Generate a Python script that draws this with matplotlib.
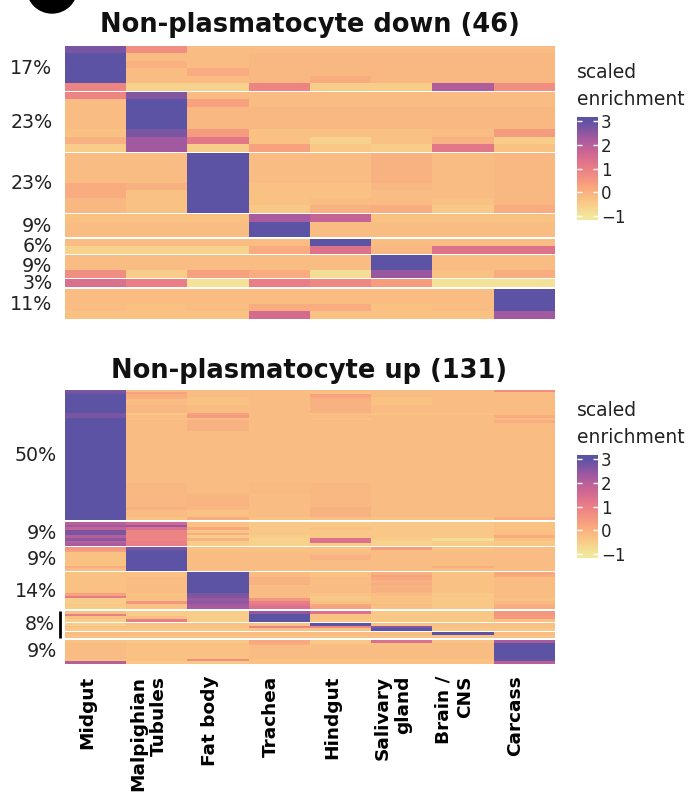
import numpy as np
import matplotlib
matplotlib.use('Agg')
import matplotlib.pyplot as plt
from matplotlib.colors import LinearSegmentedColormap, Normalize
from matplotlib.patches import Ellipse
from matplotlib.transforms import ScaledTranslation

plt.rcParams['font.family'] = ['DejaVu Sans']

tissues = ['Midgut', 'Malpighian\nTubules', 'Fat body', 'Trachea', 'Hindgut',
           'Salivary\ngland', 'Brain /\nCNS', 'Carcass']

# ---- Non-plasmatocyte down (46): clusters, rows x tissues
down_g1 = [
    [2.7, 0.7, -0.2, -0.2, -0.2, -0.2, -0.2, -0.2],
    [3.0, -0.2, -0.2, -0.1, -0.1, -0.1, -0.1, -0.1],
    [3.0, 0.0, -0.2, -0.1, -0.1, -0.1, -0.1, -0.1],
    [3.0, -0.2, 0.1, -0.1, -0.1, -0.1, -0.1, -0.1],
    [3.0, -0.2, -0.2, -0.1, 0.1, -0.1, -0.1, -0.1],
    [0.9, -0.6, -0.6, 0.9, -0.5, -0.5, 2.1, 0.7],
]
down_g2 = [
    [0.9, 2.6, -0.2, -0.2, -0.2, -0.2, -0.2, -0.2],
    [-0.2, 3.0, 0.3, -0.2, -0.2, -0.2, -0.2, -0.2],
    [-0.2, 3.0, -0.1, -0.1, -0.1, -0.1, -0.1, -0.1],
    [-0.2, 3.0, -0.1, -0.1, -0.1, -0.1, -0.1, -0.1],
    [-0.2, 3.0, -0.1, -0.1, -0.1, -0.1, -0.1, -0.1],
    [-0.3, 2.7, 0.4, -0.3, -0.3, -0.3, -0.2, 0.4],
    [0.0, 2.3, 1.2, -0.3, -0.6, -0.3, 0.0, -0.5],
    [-0.5, 2.3, -0.5, 0.3, -0.4, -0.5, 1.2, -0.3],
]
down_g3 = [
    [-0.2, -0.2, 3.0, -0.2, -0.2, 0.0, -0.2, -0.1],
    [-0.2, -0.2, 3.0, -0.2, -0.2, 0.0, -0.2, -0.1],
    [-0.2, -0.2, 3.0, -0.2, -0.2, 0.0, -0.2, -0.1],
    [-0.2, -0.2, 3.0, -0.2, -0.2, 0.0, -0.2, -0.1],
    [0.1, 0.0, 3.0, -0.3, -0.3, -0.1, -0.2, -0.1],
    [0.1, -0.3, 3.0, -0.3, -0.3, -0.2, -0.2, -0.1],
    [-0.1, -0.3, 3.0, -0.3, -0.2, -0.2, -0.3, -0.1],
    [-0.1, -0.3, 3.0, -0.4, 0.0, 0.1, -0.4, 0.1],
]
down_g4 = [
    [-0.3, -0.3, -0.3, 2.2, 1.8, -0.3, -0.3, -0.3],
    [-0.2, -0.2, -0.2, 3.0, -0.2, -0.2, -0.2, -0.2],
    [-0.2, -0.2, -0.2, 3.0, -0.2, -0.2, -0.2, -0.2],
]
down_g5 = [
    [-0.2, -0.2, -0.2, -0.2, 3.0, -0.2, -0.2, -0.2],
    [-0.6, -0.6, -0.6, 0.1, 1.3, -0.1, 1.3, 1.3],
]
down_g6 = [
    [-0.2, -0.2, -0.2, -0.2, -0.2, 3.0, -0.2, -0.2],
    [-0.2, -0.2, -0.2, -0.2, -0.2, 3.0, -0.2, -0.2],
    [0.7, -0.5, 0.3, 0.1, -0.8, 2.4, -0.3, 0.1],
]
down_g7 = [
    [1.4, 1.0, -0.9, 1.0, 0.8, 0.4, -0.9, -0.9],
]
down_g8 = [
    [-0.2, -0.2, -0.2, -0.2, -0.2, -0.2, -0.2, 3.0],
    [-0.2, -0.2, -0.2, -0.2, -0.2, -0.2, -0.2, 3.0],
    [-0.2, -0.3, -0.2, 0.1, 0.1, -0.3, -0.2, 3.0],
    [-0.3, -0.3, -0.3, 1.5, -0.3, -0.3, -0.3, 2.3],
]
down_groups = [down_g1, down_g2, down_g3, down_g4, down_g5, down_g6, down_g7, down_g8]
down_labels = [('17%', 0, 0), ('23%', 1, 1), ('23%', 2, 2), ('9%', 3, 3),
               ('6%', 4, 4), ('9%', 5, 5), ('3%', 6, 6), ('11%', 7, 7)]

# ---- Non-plasmatocyte up (131): clusters as (repeat, row)
up_g1 = [
    (1, [2.7, -0.2, -0.2, -0.2, -0.2, -0.2, -0.2, 0.7]),
    (1, [2.8, 0.3, -0.2, -0.2, -0.3, -0.2, -0.2, -0.2]),
    (1, [3.0, 0.1, -0.2, -0.2, 0.3, -0.2, -0.2, -0.2]),
    (1, [3.0, 0.0, -0.3, -0.2, 0.1, -0.3, -0.2, -0.2]),
    (2, [3.0, -0.2, -0.3, -0.2, 0.0, -0.3, -0.2, -0.2]),
    (3, [3.0, -0.1, -0.2, -0.2, 0.0, -0.2, -0.2, -0.2]),
    (1, [2.7, -0.4, 0.3, -0.2, -0.3, -0.3, -0.3, -0.2]),
    (1, [2.7, -0.2, 0.4, -0.2, -0.2, -0.2, -0.2, 0.1]),
    (1, [3.0, -0.3, -0.2, -0.2, -0.3, -0.2, -0.2, -0.2]),
    (1, [3.0, -0.2, 0.0, -0.2, -0.2, -0.2, -0.2, 0.1]),
    (3, [3.0, -0.2, 0.0, -0.2, -0.2, -0.2, -0.2, -0.2]),
    (20, [3.0, -0.2, -0.2, -0.2, -0.2, -0.2, -0.2, -0.2]),
    (4, [3.0, -0.1, -0.2, -0.15, -0.1, -0.2, -0.2, -0.2]),
    (5, [3.0, -0.1, -0.05, -0.2, -0.1, -0.2, -0.2, -0.2]),
    (1, [3.0, 0.0, -0.1, -0.2, 0.0, -0.2, -0.2, -0.2]),
    (3, [3.0, -0.2, -0.3, -0.2, 0.0, -0.2, -0.2, -0.2]),
    (1, [3.0, -0.3, 0.1, -0.3, -0.3, -0.3, -0.3, 0.1]),
]
up_g2 = [
    (1, [2.0, 1.6, -0.3, -0.4, -0.4, -0.4, -0.4, -0.3]),
    (1, [2.3, 2.4, -0.3, -0.4, -0.4, -0.4, -0.4, -0.3]),
    (1, [1.8, 1.4, 0.2, -0.4, -0.3, -0.4, -0.4, -0.3]),
    (1, [2.7, 0.9, -0.4, -0.4, -0.4, -0.4, -0.4, -0.3]),
    (1, [2.7, 0.9, 0.1, -0.4, -0.4, -0.4, -0.4, -0.3]),
    (1, [2.0, 0.9, -0.5, -0.5, -0.4, -0.4, -0.4, 0.1]),
    (1, [2.5, 0.9, 0.0, -0.6, 1.3, -0.5, -0.8, -0.3]),
    (1, [2.0, 1.0, -0.5, -0.6, 1.3, -0.6, -0.5, -0.4]),
    (1, [2.2, 1.0, -0.5, -0.6, -0.5, -0.6, -0.5, -0.4]),
]
up_g3 = [
    (1, [0.5, 2.7, -0.3, -0.3, -0.3, 0.4, -0.3, -0.2]),
    (1, [0.3, 3.0, -0.3, -0.3, -0.3, -0.2, -0.3, -0.2]),
    (1, [-0.3, 3.0, -0.2, -0.2, -0.2, -0.2, -0.2, -0.2]),
    (2, [-0.3, 3.0, -0.2, -0.2, 0.0, -0.2, -0.2, -0.2]),
    (2, [-0.3, 3.0, -0.2, -0.2, -0.2, -0.2, -0.2, -0.2]),
    (1, [0.1, 3.0, -0.2, -0.2, -0.2, -0.2, 0.1, -0.2]),
    (1, [-0.2, 3.0, -0.2, -0.2, -0.2, -0.2, -0.2, -0.2]),
]
up_g4 = [
    (1, [-0.3, -0.3, 3.0, -0.2, -0.3, 0.0, -0.3, 0.2]),
    (1, [-0.3, -0.3, 3.0, -0.2, -0.3, 0.3, -0.3, 0.1]),
    (1, [-0.3, -0.2, 3.0, 0.0, -0.2, 0.2, -0.3, -0.2]),
    (1, [-0.3, -0.2, 3.0, 0.0, -0.2, 0.0, -0.3, -0.2]),
    (1, [-0.3, -0.2, 3.0, 0.0, -0.2, 0.1, -0.3, -0.2]),
    (3, [-0.3, -0.2, 3.0, -0.2, -0.2, 0.0, -0.3, -0.2]),
    (1, [0.3, -0.3, 2.7, -0.2, -0.3, -0.2, -0.4, -0.2]),
    (1, [1.1, -0.3, 2.6, -0.2, -0.4, -0.3, -0.4, -0.2]),
    (1, [-0.5, -0.3, 2.4, 0.5, -0.4, -0.3, -0.4, -0.3]),
    (1, [-0.5, 0.5, 2.5, 1.0, -0.3, -0.3, -0.4, -0.1]),
    (1, [-0.4, -0.3, 2.3, 1.2, 0.2, -0.2, -0.4, 0.0]),
    (1, [-0.5, -0.3, 2.2, 1.4, 0.3, -0.3, -0.4, 0.1]),
]
up_g5a = [
    (1, [-0.3, -0.5, -0.5, 2.4, 1.3, -0.4, -0.4, 0.5]),
    (1, [1.0, -0.5, -0.5, 3.0, -0.3, -0.4, -0.4, 0.5]),
    (1, [-0.3, -0.3, -0.5, 3.0, -0.3, -0.4, -0.4, 0.4]),
    (1, [-0.5, 1.0, -0.5, 3.0, -0.4, -0.4, -0.4, -0.3]),
]
up_g5b = [
    (1, [-0.5, -0.3, -0.3, -0.3, 3.0, -0.3, -0.3, -0.3]),
    (1, [-0.3, -0.3, -0.3, 0.9, 0.8, 2.6, -0.3, -0.3]),
    (1, [-0.4, -0.4, -0.4, -0.3, -0.3, 3.0, -0.4, -0.4]),
]
up_g5c = [
    (1, [-0.2, -0.2, -0.2, -0.2, -0.2, -0.2, 3.0, -0.2]),
    (1, [-0.3, -0.3, -0.3, -0.3, -0.3, -0.3, -0.3, -0.3]),
]
up_g6 = [
    (1, [-0.3, -0.4, -0.4, 0.2, -0.4, 1.4, -0.3, 2.2]),
    (1, [-0.2, -0.3, -0.3, 0.1, -0.3, -0.3, -0.2, 3.0]),
    (5, [-0.2, -0.3, -0.3, -0.2, -0.2, -0.2, -0.2, 3.0]),
    (1, [-0.3, -0.3, 0.7, -0.3, -0.3, -0.3, -0.3, 2.9]),
    (1, [2.0, -0.4, -0.4, -0.3, -0.3, -0.3, -0.3, 2.0]),
]
up_groups = [up_g1, up_g2, up_g3, up_g4, up_g5a, up_g5b, up_g5c, up_g6]
up_labels = [('50%', 0, 0), ('9%', 1, 1), ('9%', 2, 2), ('14%', 3, 3),
             ('8%', 4, 6), ('9%', 7, 7)]

cmap = LinearSegmentedColormap.from_list(
    'sunset', ['#f3e79b', '#fac484', '#f8a07e', '#eb7f86', '#ce6693', '#a059a0', '#5c53a5'])
norm = Normalize(vmin=-1, vmax=3, clip=True)

W, H = 688, 801
fig = plt.figure(figsize=(W / 100, H / 100), dpi=100)


def px_axes(x0, y0, x1, y1):
    return fig.add_axes([x0 / W, 1 - y1 / H, (x1 - x0) / W, (y1 - y0) / H])


def expand(group):
    rows = []
    for rep, row in group:
        rows.extend([row] * rep)
    return rows


def draw_heatmap(ax, groups, labels, gap, label_x, bar_x=None):
    edges = []
    y = 0.0
    for g in groups:
        data = np.array(g, dtype=float)
        n = data.shape[0]
        ax.imshow(data, cmap=cmap, norm=norm, aspect='auto', interpolation='nearest',
                  extent=[0, data.shape[1], y + n, y])
        edges.append((y, y + n))
        y += n + gap
    ax.set_xlim(0, 8)
    ax.set_ylim(y - gap, 0)
    ax.set_frame_on(False)
    ax.set_yticks([])
    ax.set_xticks([])
    tr = ax.get_yaxis_transform()
    for text, i0, i1 in labels:
        top, bottom = edges[i0][0], edges[i1][1]
        lx = label_x
        if i1 > i0 and bar_x is not None:
            ax.plot([bar_x, bar_x], [top, bottom], color='black', lw=2,
                    transform=tr, clip_on=False, solid_capstyle='butt')
            lx = bar_x - 0.01
        ax.text(lx, (top + bottom) / 2, text, transform=tr, ha='right', va='center',
                fontsize=13.7, color='#222222')


def draw_legend(y_top):
    fig.text(577 / W, 1 - (y_top - 38.7) / H, 'scaled', fontsize=13.5,
             color='#222222', va='baseline', ha='left')
    fig.text(577 / W, 1 - (y_top - 12) / H, 'enrichment', fontsize=13.5,
             color='#222222', va='baseline', ha='left')
    cax = px_axes(577, y_top, 598, y_top + 103)
    lo, hi = -1.15, 3.15
    grad = np.linspace(lo, hi, 256)[:, None]
    cax.imshow(grad, cmap=cmap, norm=norm, aspect='auto', origin='lower',
               extent=[0, 1, lo, hi])
    cax.set_xlim(0, 1)
    cax.set_ylim(lo, hi)
    ticks = [-1, 0, 1, 2, 3]
    cax.hlines(ticks, 0, 0.22, color='white', lw=1)
    cax.hlines(ticks, 0.78, 1, color='white', lw=1)
    cax.set_xticks([])
    cax.yaxis.tick_right()
    cax.set_yticks(ticks, ['\u22121', '0', '1', '2', '3'])
    cax.tick_params(axis='y', length=0, pad=2, labelsize=12, labelcolor='#222222')
    for s in cax.spines.values():
        s.set_visible(False)


ax_down = px_axes(65, 46, 554, 319)
draw_heatmap(ax_down, down_groups, down_labels, gap=0.25, label_x=-0.026)

ax_up = px_axes(65, 389.7, 554, 663.7)
draw_heatmap(ax_up, [expand(g) for g in up_groups], up_labels, gap=0.7,
             label_x=-0.016, bar_x=-0.011)

ax_up.set_xticks(np.arange(8) + 0.5, tissues, rotation=90, fontsize=13.3,
                 fontweight='bold', ha='center', va='top', multialignment='right')
ax_up.tick_params(axis='x', length=0, pad=8.5)
shift = ScaledTranslation(-0.08, 0, fig.dpi_scale_trans)
for lab in ax_up.get_xticklabels():
    lab.set_transform(lab.get_transform() + shift)

fig.text(309.5 / W, 1 - 25 / H, 'Non-plasmatocyte down (46)', ha='center', va='center',
         fontsize=18.5, fontweight='bold', color='#111111')
fig.text(309.5 / W, 1 - 370.5 / H, 'Non-plasmatocyte up (131)', ha='center', va='center',
         fontsize=18.5, fontweight='bold', color='#111111')

draw_legend(117)
draw_legend(455)

fig.add_artist(Ellipse((52 / W, 1 + 12 / H), 50 / W, 50 / H, color='black',
                       transform=fig.transFigure, clip_on=False))

fig.savefig('out.png', dpi=100)
